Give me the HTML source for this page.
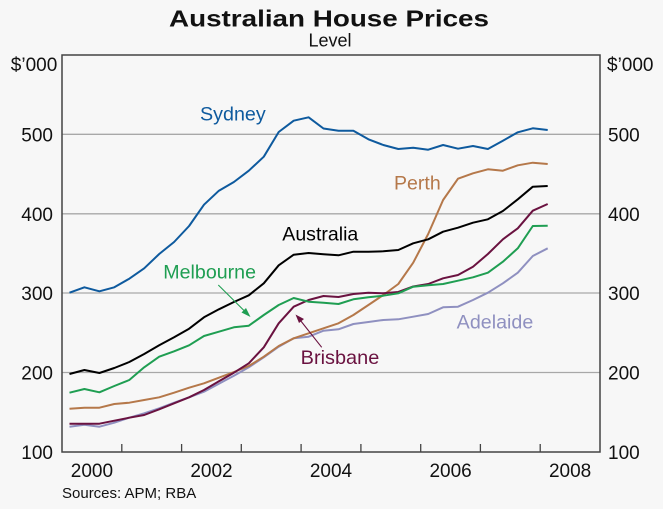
<!DOCTYPE html>
<html><head><meta charset="utf-8"><style>
html,body{margin:0;padding:0;background:#f7f7f7;}
svg{display:block;font-family:"Liberation Sans",Arial,sans-serif;}
</style></head><body>
<svg width="663" height="509" viewBox="0 0 663 509" xmlns="http://www.w3.org/2000/svg">
<rect x="0" y="0" width="663" height="509" fill="#f7f7f7"/>
<text x="329" y="26.7" text-anchor="middle" font-size="23" font-weight="bold" fill="#111" textLength="320" lengthAdjust="spacingAndGlyphs">Australian House Prices</text>
<text x="330" y="46.7" text-anchor="middle" font-size="18" fill="#111">Level</text>
<!-- gridlines -->
<g stroke="#a8a8a8" stroke-width="1.3">
<line x1="62" y1="134.3" x2="600" y2="134.3"/>
<line x1="62" y1="213.8" x2="600" y2="213.8"/>
<line x1="62" y1="293" x2="600" y2="293"/>
<line x1="62" y1="372.5" x2="600" y2="372.5"/>
</g>
<!-- ticks -->
<g stroke="#444" stroke-width="1.3">
<line x1="121.8" y1="444" x2="121.8" y2="452"/>
<line x1="181.6" y1="444" x2="181.6" y2="452"/>
<line x1="241.3" y1="444" x2="241.3" y2="452"/>
<line x1="301.1" y1="444" x2="301.1" y2="452"/>
<line x1="360.9" y1="444" x2="360.9" y2="452"/>
<line x1="420.7" y1="444" x2="420.7" y2="452"/>
<line x1="480.4" y1="444" x2="480.4" y2="452"/>
<line x1="540.2" y1="444" x2="540.2" y2="452"/>
</g>
<!-- series -->
<g fill="none" stroke-width="2" stroke-linejoin="round">
<polyline stroke="#8f90c0" points="69.5,426.7 84.4,424.7 99.4,426.7 114.3,422.7 129.3,417.7 144.2,413.3 159.2,408.3 174.1,402.7 189.1,397.3 204,391.7 218.9,383.7 233.9,375.7 248.8,367.3 263.8,357.3 278.7,346.7 293.7,338.3 308.6,336.7 323.5,330.7 338.5,329.3 353.4,324 368.4,322 383.3,320 398.3,319.3 413.2,316.7 428.2,314 443.1,307.3 458,306.7 473,300 487.9,292.7 502.9,283.3 517.8,272.7 532.8,256 547.7,248.3"/>
<polyline stroke="#b5784a" points="69.5,408.7 84.4,407.7 99.4,407.7 114.3,404 129.3,402.7 144.2,400 159.2,397.3 174.1,392.7 189.1,387.7 204,383.3 218.9,377.7 233.9,372 248.8,366 263.8,356.7 278.7,346 293.7,338.3 308.6,333.3 323.5,328.3 338.5,323.3 353.4,315 368.4,305 383.3,295 398.3,284 413.2,262.7 428.2,234 443.1,200 458,178.7 473,173.3 487.9,169.3 502.9,170.7 517.8,165.3 532.8,162.7 547.7,164"/>
<polyline stroke="#6a1240" points="69.5,423.7 84.4,423.7 99.4,423.7 114.3,420.7 129.3,417.7 144.2,415 159.2,409.3 174.1,403.3 189.1,397.3 204,390 218.9,381.3 233.9,372.7 248.8,363.3 263.8,347.3 278.7,323.3 293.7,306.7 308.6,300 323.5,296 338.5,297 353.4,294 368.4,292.7 383.3,293.3 398.3,292 413.2,286.5 428.2,284 443.1,278.3 458,275 473,266.7 487.9,254 502.9,239.3 517.8,228.3 532.8,210.7 547.7,204"/>
<polyline stroke="#1f9e52" points="69.5,392.7 84.4,389 99.4,392.3 114.3,386 129.3,380 144.2,367.3 159.2,356.7 174.1,351.3 189.1,345.3 204,336 218.9,331.7 233.9,327.3 248.8,325.7 263.8,315 278.7,305 293.7,298 308.6,301.7 323.5,302.7 338.5,304 353.4,299.3 368.4,297.3 383.3,295.7 398.3,293.3 413.2,286.7 428.2,285.3 443.1,284 458,280.7 473,277.3 487.9,272.7 502.9,261.7 517.8,248.3 532.8,226 547.7,225.7"/>
<polyline stroke="#000" points="69.5,374 84.4,370 99.4,373 114.3,368 129.3,362 144.2,354 159.2,345.3 174.1,337.3 189.1,328.7 204,317.3 218.9,309.3 233.9,302 248.8,295.3 263.8,283.3 278.7,265.3 293.7,254.7 308.6,253 323.5,254.3 338.5,255.3 353.4,251.7 368.4,251.7 383.3,251.3 398.3,250 413.2,243.3 428.2,239.3 443.1,231.7 458,227.7 473,222.7 487.9,219.3 502.9,211 517.8,199.3 532.8,186.7 547.7,186"/>
<polyline stroke="#0e5a9e" points="69.5,292.7 84.4,287.3 99.4,291.3 114.3,287.3 129.3,278.7 144.2,268.3 159.2,254 174.1,242 189.1,226 204,204.7 218.9,190.7 233.9,182 248.8,170.7 263.8,156.7 278.7,132 293.7,120.7 308.6,117.3 323.5,128.5 338.5,130.7 353.4,130.7 368.4,139.3 383.3,145 398.3,149 413.2,147.7 428.2,149.7 443.1,145 458,148.7 473,146 487.9,149 502.9,140.7 517.8,132.3 532.8,128.3 547.7,130"/>
</g>
<!-- arrows -->
<line x1="218.3" y1="285" x2="247" y2="313.5" stroke="#1f9e52" stroke-width="1.1"/>
<polygon points="250.5,317 241.5,312.5 246,308" fill="#1f9e52"/>
<line x1="321.7" y1="347.3" x2="298.5" y2="318" stroke="#6a1240" stroke-width="1.1"/>
<polygon points="295.5,314.5 304,319 299,323" fill="#6a1240"/>
<!-- frame -->
<rect x="62" y="55" width="538" height="397" fill="none" stroke="#444" stroke-width="1.5"/>
<!-- series labels -->
<g font-size="19.5">
<text x="200" y="120.7" fill="#0e5a9e" textLength="65.7" lengthAdjust="spacingAndGlyphs">Sydney</text>
<text x="394" y="189.3" fill="#b5784a" textLength="46.7" lengthAdjust="spacingAndGlyphs">Perth</text>
<text x="282.3" y="240.7" fill="#000" textLength="76" lengthAdjust="spacingAndGlyphs">Australia</text>
<text x="163.3" y="278.3" fill="#1f9e52" textLength="92.7" lengthAdjust="spacingAndGlyphs">Melbourne</text>
<text x="300.7" y="364" fill="#6a1240" textLength="78.6" lengthAdjust="spacingAndGlyphs">Brisbane</text>
<text x="456.7" y="328.3" fill="#8f90c0" textLength="76.6" lengthAdjust="spacingAndGlyphs">Adelaide</text>
</g>
<!-- axis labels -->
<g font-size="19" fill="#111">
<text x="57.3" y="71" text-anchor="end">$’000</text>
<text x="53" y="141.3" text-anchor="end">500</text>
<text x="53" y="220.8" text-anchor="end">400</text>
<text x="53" y="300" text-anchor="end">300</text>
<text x="53" y="379.5" text-anchor="end">200</text>
<text x="53" y="459" text-anchor="end">100</text>
<text x="607" y="71">$’000</text>
<text x="608" y="141.3">500</text>
<text x="608" y="220.8">400</text>
<text x="608" y="300">300</text>
<text x="608" y="379.5">200</text>
<text x="608" y="459">100</text>
<text x="91.9" y="477" text-anchor="middle">2000</text>
<text x="211.5" y="477" text-anchor="middle">2002</text>
<text x="331" y="477" text-anchor="middle">2004</text>
<text x="450.6" y="477" text-anchor="middle">2006</text>
<text x="570.1" y="477" text-anchor="middle">2008</text>
</g>
<text x="62" y="498" font-size="15" fill="#111">Sources: APM; RBA</text>
</svg>
</body></html>
